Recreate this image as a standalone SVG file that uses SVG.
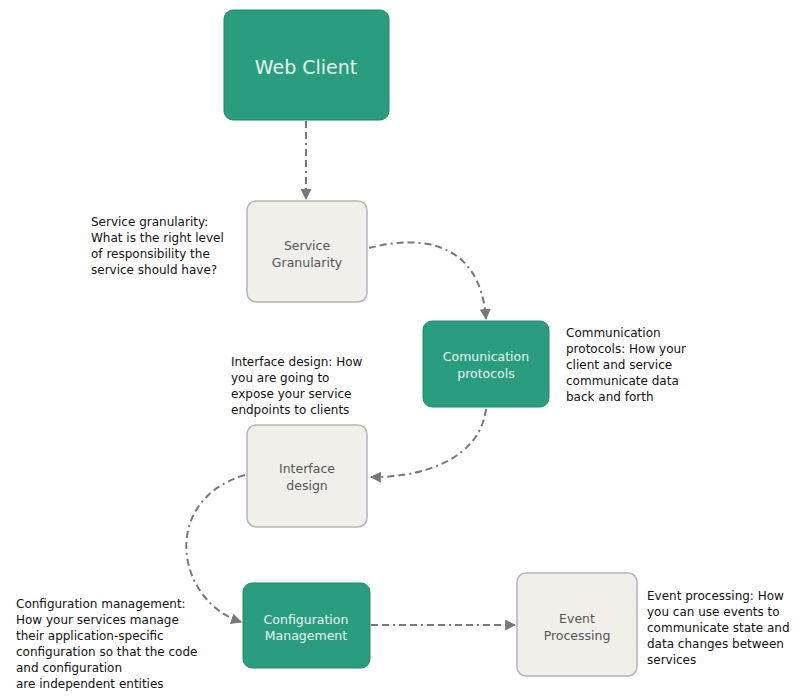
<svg xmlns="http://www.w3.org/2000/svg" width="800" height="700" viewBox="0 0 800 700">
<defs>
<marker id="arr" viewBox="0 0 10 10" refX="9" refY="5" markerWidth="11" markerHeight="11" markerUnits="userSpaceOnUse" orient="auto">
<path d="M0,0 L10,5 L0,10 z" fill="#777"/>
</marker>
</defs>
<style>
.green{fill:#2a9d7e;stroke:#23886c;stroke-width:1}
.grey{fill:#f0efea;stroke:#b5b5b5;stroke-width:1.5}
.gt{font-family:"DejaVu Sans",Verdana,sans-serif;fill:#e6f7ef;text-anchor:middle}
.nt{font-family:"DejaVu Sans",Verdana,sans-serif;fill:#555;font-size:12.5px;text-anchor:middle}
.lbl{font-family:"DejaVu Sans",Verdana,sans-serif;fill:#111;font-size:12px}
.con{fill:none;stroke:#777;stroke-width:2;stroke-dasharray:7,4,7,4,2,4;marker-end:url(#arr)}
</style>
<rect width="800" height="700" fill="#fff"/>
<g id="connectors">
<path class="con" d="M306,121 L306,199"/>
<path class="con" d="M369,248 C420,235 480,240 486,319"/>
<path class="con" d="M486,409 C480,460 420,478 371,477"/>
<path class="con" d="M245,475 C160,500 175,600 241,622"/>
<path class="con" d="M371,625 L515,625"/>
</g>
<g id="web-client">
<rect class="green" x="224" y="10" width="165" height="110" rx="9"/>
<text class="gt" x="306" y="74" font-size="19">Web Client</text>
</g>
<g id="service-granularity">
<rect class="grey" x="247" y="201" width="120" height="101" rx="9"/>
<text class="nt" x="307" y="250">Service</text>
<text class="nt" x="307" y="267">Granularity</text>
</g>
<g id="service-granularity-note">
<text class="lbl" x="91" y="226">Service granularity:</text>
<text class="lbl" x="91" y="242">What is the right level</text>
<text class="lbl" x="91" y="258">of responsibility the</text>
<text class="lbl" x="91" y="274">service should have?</text>
</g>
<g id="communication-protocols">
<rect class="green" x="423" y="321" width="126" height="86" rx="9"/>
<text class="gt" x="486" y="361" font-size="12.5">Comunication</text>
<text class="gt" x="486" y="378" font-size="12.5">protocols</text>
</g>
<g id="communication-note">
<text class="lbl" x="566" y="337">Communication</text>
<text class="lbl" x="566" y="353">protocols: How your</text>
<text class="lbl" x="566" y="369">client and service</text>
<text class="lbl" x="566" y="385">communicate data</text>
<text class="lbl" x="566" y="401">back and forth</text>
</g>
<g id="interface-note">
<text class="lbl" x="231" y="366">Interface design: How</text>
<text class="lbl" x="231" y="382">you are going to</text>
<text class="lbl" x="231" y="398">expose your service</text>
<text class="lbl" x="231" y="414">endpoints to clients</text>
</g>
<g id="interface-design">
<rect class="grey" x="247" y="425" width="120" height="102" rx="9"/>
<text class="nt" x="307" y="473">Interface</text>
<text class="nt" x="307" y="490">design</text>
</g>
<g id="configuration-management">
<rect class="green" x="243" y="583" width="127" height="85" rx="9"/>
<text class="gt" x="306" y="624" font-size="12.5">Configuration</text>
<text class="gt" x="306" y="640" font-size="12.5">Management</text>
</g>
<g id="configuration-note">
<text class="lbl" x="16" y="608">Configuration management:</text>
<text class="lbl" x="16" y="624">How your services manage</text>
<text class="lbl" x="16" y="640">their application-specific</text>
<text class="lbl" x="16" y="656">configuration so that the code</text>
<text class="lbl" x="16" y="672">and configuration</text>
<text class="lbl" x="16" y="688">are independent entities</text>
</g>
<g id="event-processing">
<rect class="grey" x="517" y="573" width="120" height="103" rx="9"/>
<text class="nt" x="577" y="623">Event</text>
<text class="nt" x="577" y="640">Processing</text>
</g>
<g id="event-note">
<text class="lbl" x="647" y="600">Event processing: How</text>
<text class="lbl" x="647" y="616">you can use events to</text>
<text class="lbl" x="647" y="632">communicate state and</text>
<text class="lbl" x="647" y="648">data changes between</text>
<text class="lbl" x="647" y="664">services</text>
</g>
</svg>
